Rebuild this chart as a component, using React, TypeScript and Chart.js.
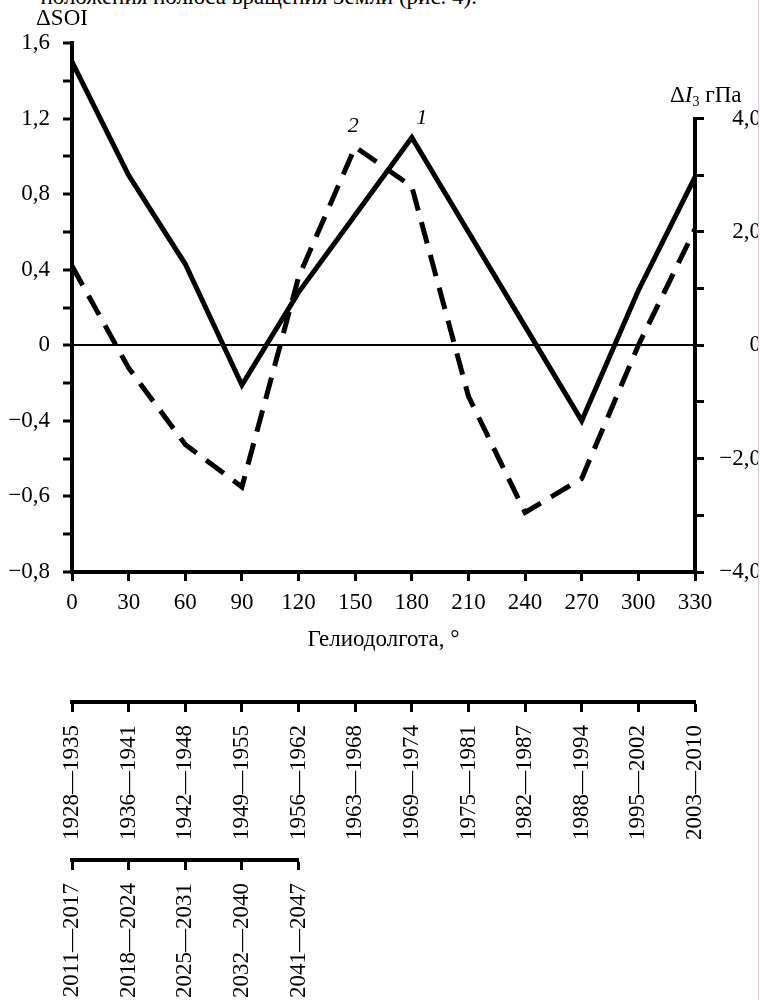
import React, { useEffect, useRef } from 'react';
import { Chart, registerables } from 'chart.js';

Chart.register(...registerables);

// Heliolongitude, degrees
const longitudes = ['0', '30', '60', '90', '120', '150', '180', '210', '240', '270', '300', '330'];
// Curve 1: ΔSOI (left axis)
const soiValues = [1.5, 0.9, 0.43, -0.21, 0.28, 0.69, 1.1, 0.6, 0.1, -0.4, 0.29, 0.89];
// Curve 2: ΔI3, hPa (right axis)
const pressureValues = [1.4, -0.4, -1.75, -2.5, 1.2, 3.5, 2.8, -0.9, -2.95, -2.35, 0.0, 2.05];

// Left axis tick labels, bottom to top (one per 0.2 step)
const soiTickLabels = ['−0,8', '', '−0,6', '', '−0,4', '', '0', '', '0,4', '', '0,8', '', '1,2', '', '1,6'];
// Right axis tick labels, from −4 to 4 (one per unit)
const pressureTickLabels = ['−4,0', '', '−2,0', '', '0', '', '2,0', '', '4,0'];

// Year periods under the heliolongitude scale
const periodsRow1 = [
  '1928—1935', '1936—1941', '1942—1948', '1949—1955', '1956—1962', '1963—1968',
  '1969—1974', '1975—1981', '1982—1987', '1988—1994', '1995—2002', '2003—2010',
];
const periodsRow2 = ['2011—2017', '2018—2024', '2025—2031', '2032—2040', '2041—2047'];

const SOI_MIN = -1.2;
const SOI_MAX = 1.6;
const P_MIN = -4;
const P_TOP_TICK = 4;
// right axis range chosen so that both zero levels coincide
const P_MAX = (-P_MIN * SOI_MAX) / -SOI_MIN;

const FONT = '"Liberation Serif", "Times New Roman", serif';
const TEXT = 23;

const W = 761;
const PLOT_LEFT = 72;
const PLOT_RIGHT = 695;
const PLOT_TOP = 43;
const PLOT_BOTTOM = 572;
const MAIN_H = 680;

const captionsPlugin = {
  id: 'captions',
  afterDraw(chart: any) {
    const { ctx, chartArea, scales } = chart;
    const y2 = scales.y2;
    const rx = chartArea.right;
    const topTick = y2.getPixelForValue(P_TOP_TICK);
    ctx.save();
    // right axis line, only across the ticked range
    ctx.strokeStyle = '#000';
    ctx.lineWidth = 4;
    ctx.beginPath();
    ctx.moveTo(rx, topTick - 1.5);
    ctx.lineTo(rx, chartArea.bottom + 2);
    ctx.stroke();

    ctx.fillStyle = '#000';
    ctx.textBaseline = 'middle';
    ctx.textAlign = 'center';
    ctx.font = `${TEXT}px ${FONT}`;
    ctx.fillText('ΔSOI', chartArea.left - 10, chartArea.top - 24);

    // ΔI3 гПа
    ctx.textBaseline = 'alphabetic';
    ctx.textAlign = 'left';
    let x = rx - 25;
    const base = topTick - 17;
    ctx.font = `${TEXT}px ${FONT}`;
    ctx.fillText('Δ', x, base);
    x += ctx.measureText('Δ').width;
    ctx.font = `italic ${TEXT}px ${FONT}`;
    ctx.fillText('I', x, base);
    x += ctx.measureText('I').width;
    ctx.font = `14px ${FONT}`;
    ctx.fillText('3', x, base + 4);
    x += ctx.measureText('3').width;
    ctx.font = `${TEXT}px ${FONT}`;
    ctx.fillText(' гПа', x, base);

    // curve numbers
    ctx.font = `italic 22px ${FONT}`;
    ctx.textAlign = 'center';
    ctx.textBaseline = 'middle';
    const p1 = chart.getDatasetMeta(0).data[6];
    const p2 = chart.getDatasetMeta(1).data[5];
    ctx.fillText('1', p1.x + 10, p1.y - 19);
    ctx.fillText('2', p2.x - 2, p2.y - 21);
    ctx.restore();
  },
};

function MainChart() {
  const ref = useRef<HTMLCanvasElement>(null);
  useEffect(() => {
    const tickFont = { family: FONT, size: TEXT };
    const chart = new Chart(ref.current!, {
      type: 'line',
      data: {
        labels: longitudes,
        datasets: [
          {
            label: '1',
            data: soiValues,
            yAxisID: 'y',
            borderColor: '#000',
            borderWidth: 5,
            pointRadius: 0,
            tension: 0,
            fill: false,
            borderJoinStyle: 'miter',
            borderCapStyle: 'butt',
          },
          {
            label: '2',
            data: pressureValues,
            yAxisID: 'y2',
            borderColor: '#000',
            borderWidth: 5,
            borderDash: [22, 12],
            pointRadius: 0,
            tension: 0,
            fill: false,
            borderJoinStyle: 'miter',
            borderCapStyle: 'butt',
          },
        ],
      },
      options: {
        animation: false,
        responsive: false,
        maintainAspectRatio: false,
        events: [],
        layout: { padding: { top: PLOT_TOP, left: 0, right: 0, bottom: 0 } },
        plugins: { legend: { display: false }, tooltip: { enabled: false } },
        scales: {
          x: {
            type: 'category',
            offset: false,
            grid: {
              offset: false,
              drawOnChartArea: false,
              drawTicks: true,
              tickLength: 9,
              tickWidth: 3,
              tickColor: '#000',
              color: '#000',
            },
            border: { display: true, color: '#000', width: 4 },
            ticks: { color: '#000', font: tickFont, padding: 8, maxRotation: 0, autoSkip: false },
            title: {
              display: true,
              text: 'Гелиодолгота, °',
              color: '#000',
              font: tickFont,
              padding: { top: 0, bottom: 26 },
            },
            afterFit: (s: any) => {
              s.height = MAIN_H - PLOT_BOTTOM;
            },
          },
          y: {
            type: 'linear',
            position: 'left',
            min: SOI_MIN,
            max: SOI_MAX,
            ticks: {
              stepSize: 0.2,
              maxTicksLimit: 40,
              autoSkip: false,
              color: '#000',
              font: tickFont,
              padding: 13,
              callback: (_v: any, i: number) => soiTickLabels[i] ?? '',
            },
            grid: {
              drawOnChartArea: true,
              color: (c: any) => (c.tick && Math.abs(c.tick.value) < 1e-9 ? '#000' : 'rgba(0,0,0,0)'),
              lineWidth: 2,
              tickColor: '#000',
              tickWidth: 3,
              tickLength: 9,
            },
            border: { display: true, color: '#000', width: 4 },
            afterFit: (s: any) => {
              s.width = PLOT_LEFT;
            },
          },
          y2: {
            type: 'linear',
            position: 'right',
            min: P_MIN,
            max: P_MAX,
            ticks: {
              stepSize: 1,
              maxTicksLimit: 40,
              autoSkip: false,
              color: '#000',
              font: tickFont,
              padding: 8,
              crossAlign: 'far',
              callback: (v: any) => pressureTickLabels[Math.round(Number(v)) - P_MIN] ?? '',
            },
            grid: {
              drawOnChartArea: false,
              color: '#000',
              tickColor: '#000',
              tickWidth: 3,
              tickLength: 9,
            },
            border: { display: false },
            afterBuildTicks: (s: any) => {
              s.ticks = s.ticks.filter((t: any) => t.value <= P_TOP_TICK + 1e-9);
            },
            afterFit: (s: any) => {
              s.width = W - PLOT_RIGHT;
            },
          },
        },
      } as any,
      plugins: [captionsPlugin],
    });
    return () => chart.destroy();
  }, []);
  return (
    <canvas
      ref={ref}
      width={W}
      height={MAIN_H}
      style={{ position: 'absolute', left: 0, top: 0, width: W, height: MAIN_H }}
    />
  );
}

function PeriodAxis(props: { labels: string[]; top: number; height: number; axisY: number; right: number }) {
  const ref = useRef<HTMLCanvasElement>(null);
  const { labels, top, height, axisY, right } = props;
  useEffect(() => {
    const chart = new Chart(ref.current!, {
      type: 'line',
      data: { labels, datasets: [] },
      options: {
        animation: false,
        responsive: false,
        maintainAspectRatio: false,
        events: [],
        layout: { padding: { left: PLOT_LEFT, right: 760 - right, top: 0, bottom: 0 } },
        plugins: { legend: { display: false }, tooltip: { enabled: false } },
        scales: {
          x: {
            type: 'category',
            position: 'bottom',
            offset: false,
            grid: {
              offset: false,
              drawOnChartArea: false,
              tickLength: 10,
              tickWidth: 3,
              tickColor: '#000',
              color: '#000',
            },
            border: { display: true, color: '#000', width: 4 },
            ticks: {
              minRotation: 90,
              maxRotation: 90,
              autoSkip: false,
              padding: 13,
              color: '#000',
              font: { family: FONT, size: TEXT },
            },
            afterFit: (s: any) => {
              s.height = height - (axisY - top);
            },
          },
          y: { display: false },
        },
      } as any,
    });
    return () => chart.destroy();
  }, []);
  return (
    <canvas
      ref={ref}
      width={760}
      height={height}
      style={{ position: 'absolute', left: 0, top, width: 760, height }}
    />
  );
}

export default function App() {
  return (
    <div style={{ position: 'absolute', left: 0, top: 0, width: 760, height: 1000, overflow: 'hidden', background: '#fff' }}>
      <div style={{ position: 'absolute', left: 0, top: 0, width: 758, height: 1000, overflow: 'hidden' }}>
        <div
          style={{
            position: 'absolute',
            right: 758 - 477,
            top: -15,
            whiteSpace: 'nowrap',
            fontFamily: FONT,
            fontSize: TEXT,
            lineHeight: `${TEXT}px`,
            color: '#000',
          }}
        >
          положения полюса вращения Земли (рис. 4).
        </div>
        <MainChart />
        <PeriodAxis labels={periodsRow1} top={660} height={185} axisY={702} right={PLOT_RIGHT} />
        <PeriodAxis labels={periodsRow2} top={820} height={180} axisY={860} right={298.5} />
      </div>
      <div style={{ position: 'absolute', left: 758, top: 0, width: 1, height: 1000, background: '#f3c4c8' }} />
    </div>
  );
}
